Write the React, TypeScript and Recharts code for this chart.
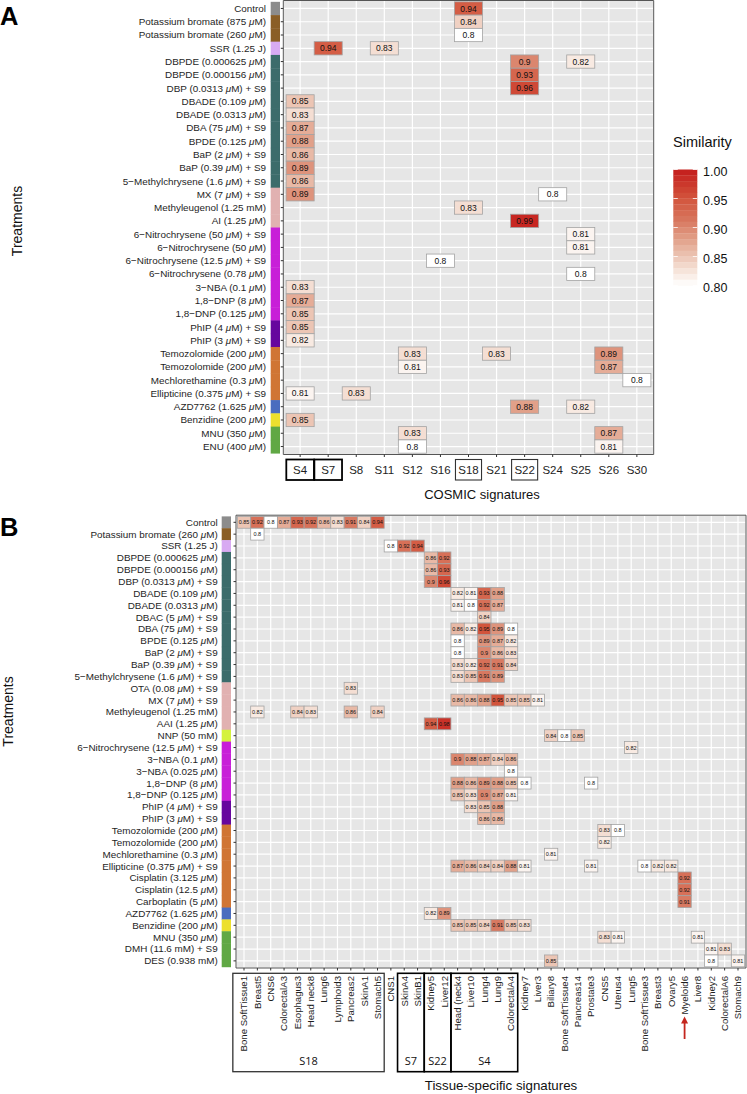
import React from 'react';
import { ScatterChart, Scatter, XAxis, YAxis, CartesianGrid, ReferenceArea } from 'recharts';

const FONT = '"Liberation Sans", Arial, Helvetica, sans-serif';
const PAD = 0.6; // ggplot discrete expansion

// ---------- Panel A: COSMIC signatures ----------
const treatmentsA = [
  'Control', 'Potassium bromate (875 μM)', 'Potassium bromate (260 μM)', 'SSR (1.25 J)',
  'DBPDE (0.000625 μM)', 'DBPDE (0.000156 μM)', 'DBP (0.0313 μM) + S9', 'DBADE (0.109 μM)',
  'DBADE (0.0313 μM)', 'DBA (75 μM) + S9', 'BPDE (0.125 μM)', 'BaP (2 μM) + S9',
  'BaP (0.39 μM) + S9', '5−Methylchrysene (1.6 μM) + S9', 'MX (7 μM) + S9', 'Methyleugenol (1.25 mM)',
  'AI (1.25 μM)', '6−Nitrochrysene (50 μM) + S9', '6−Nitrochrysene (50 μM)', '6−Nitrochrysene (12.5 μM) + S9',
  '6−Nitrochrysene (0.78 μM)', '3−NBA (0.1 μM)', '1,8−DNP (8 μM)', '1,8−DNP (0.125 μM)',
  'PhIP (4 μM) + S9', 'PhIP (3 μM) + S9', 'Temozolomide (200 μM)', 'Temozolomide (200 μM)',
  'Mechlorethamine (0.3 μM)', 'Ellipticine (0.375 μM) + S9', 'AZD7762 (1.625 μM)', 'Benzidine (200 μM)',
  'MNU (350 μM)', 'ENU (400 μM)',
];
const groupsA = [
  'ctrl', 'kbr', 'kbr', 'ssr',
  'pah', 'pah', 'pah', 'pah', 'pah', 'pah', 'pah', 'pah', 'pah', 'pah',
  'pink', 'pink', 'pink',
  'nitro', 'nitro', 'nitro', 'nitro', 'nitro', 'nitro', 'nitro',
  'phip', 'phip',
  'alk', 'alk', 'alk', 'alk',
  'azd', 'benz', 'green', 'green',
];
const cosmicSigs = ['S4', 'S7', 'S8', 'S11', 'S12', 'S16', 'S18', 'S21', 'S22', 'S24', 'S25', 'S26', 'S30'];
const boxedCosmic: Record<string, string> = { S4: 'bold', S7: 'bold', S18: 'thin', S22: 'thin' };

// [row, column, similarity]
const cellsA: [number, number, number][] = [
  [0, 6, 0.94], [1, 6, 0.84], [2, 6, 0.8],
  [3, 1, 0.94], [3, 3, 0.83],
  [4, 8, 0.9], [4, 10, 0.82], [5, 8, 0.93], [6, 8, 0.96],
  [7, 0, 0.85], [8, 0, 0.83], [9, 0, 0.87], [10, 0, 0.88], [11, 0, 0.86], [12, 0, 0.89], [13, 0, 0.86],
  [14, 0, 0.89], [14, 9, 0.8],
  [15, 6, 0.83], [16, 8, 0.99],
  [17, 10, 0.81], [18, 10, 0.81], [19, 5, 0.8], [20, 10, 0.8],
  [21, 0, 0.83], [22, 0, 0.87], [23, 0, 0.85], [24, 0, 0.85], [25, 0, 0.82],
  [26, 4, 0.83], [26, 7, 0.83], [26, 11, 0.89],
  [27, 4, 0.81], [27, 11, 0.87],
  [28, 12, 0.8],
  [29, 0, 0.81], [29, 2, 0.83],
  [30, 8, 0.88], [30, 10, 0.82],
  [31, 0, 0.85],
  [32, 4, 0.83], [32, 11, 0.87],
  [33, 4, 0.8], [33, 11, 0.81],
];

// ---------- Panel B: tissue-specific signatures ----------
const treatmentsB = [
  'Control', 'Potassium bromate (260 μM)', 'SSR (1.25 J)', 'DBPDE (0.000625 μM)',
  'DBPDE (0.000156 μM)', 'DBP (0.0313 μM) + S9', 'DBADE (0.109 μM)', 'DBADE (0.0313 μM)',
  'DBAC (5 μM) + S9', 'DBA (75 μM) + S9', 'BPDE (0.125 μM)', 'BaP (2 μM) + S9',
  'BaP (0.39 μM) + S9', '5−Methylchrysene (1.6 μM) + S9', 'OTA (0.08 μM) + S9', 'MX (7 μM) + S9',
  'Methyleugenol (1.25 mM)', 'AAI (1.25 μM)', 'NNP (50 mM)', '6−Nitrochrysene (12.5 μM) + S9',
  '3−NBA (0.1 μM)', '3−NBA (0.025 μM)', '1,8−DNP (8 μM)', '1,8−DNP (0.125 μM)',
  'PhIP (4 μM) + S9', 'PhIP (3 μM) + S9', 'Temozolomide (200 μM)', 'Temozolomide (200 μM)',
  'Mechlorethamine (0.3 μM)', 'Ellipticine (0.375 μM) + S9', 'Cisplatin (3.125 μM)', 'Cisplatin (12.5 μM)',
  'Carboplatin (5 μM)', 'AZD7762 (1.625 μM)', 'Benzidine (200 μM)', 'MNU (350 μM)',
  'DMH (11.6 mM) + S9', 'DES (0.938 mM)',
];
const groupsB = [
  'ctrl', 'kbr', 'ssr',
  'pah', 'pah', 'pah', 'pah', 'pah', 'pah', 'pah', 'pah', 'pah', 'pah', 'pah',
  'pink', 'pink', 'pink', 'pink',
  'nnp',
  'nitro', 'nitro', 'nitro', 'nitro', 'nitro',
  'phip', 'phip',
  'alk', 'alk', 'alk', 'alk', 'alk', 'alk', 'alk',
  'azd', 'benz', 'green', 'green', 'green',
];
const tissueSigs = [
  'Bone SoftTissue1', 'Breast5', 'CNS6', 'ColorectalA3', 'Esophagus3', 'Head neck8', 'Lung6', 'Lymphoid3',
  'Pancreas2', 'SkinA1', 'Stomach5', 'CNS1', 'SkinA4', 'SkinB1', 'Kidney5', 'Liver12',
  'Head (neck4', 'Liver10', 'Lung4', 'Lung9', 'ColorectalA4', 'Kidney7', 'Liver3', 'Biliary8',
  'Bone SoftTissue4', 'Pancreas14', 'Prostate3', 'CNS5', 'Uterus4', 'Lung5', 'Bone SoftTissue3', 'Breast3',
  'Ovary5', 'Myeloid6', 'Liver8', 'Kidney2', 'ColorectalA6', 'Stomach9',
];
const tissueBoxes = [
  { label: 'S18', from: 0, to: 10, padL: 4.5, bold: false },
  { label: 'S7', from: 12, to: 13, padL: 0, bold: true },
  { label: 'S22', from: 14, to: 15, padL: 0, bold: true },
  { label: 'S4', from: 16, to: 20, padL: 0, bold: true },
];
const arrowSig = 'Myeloid6';

// [row, first column, values in consecutive columns]
const runsB: [number, number, number[]][] = [
  [0, 0, [0.85, 0.92, 0.8, 0.87, 0.93, 0.92, 0.86, 0.83, 0.91, 0.84, 0.94]],
  [1, 1, [0.8]],
  [2, 11, [0.8, 0.92, 0.94]],
  [3, 14, [0.86, 0.92]],
  [4, 14, [0.86, 0.93]],
  [5, 14, [0.9, 0.96]],
  [6, 16, [0.82, 0.81, 0.93, 0.88]],
  [7, 16, [0.81, 0.8, 0.92, 0.87]],
  [8, 18, [0.84]],
  [9, 16, [0.86, 0.82, 0.95, 0.89, 0.8]],
  [10, 16, [0.8]], [10, 18, [0.89, 0.87, 0.82]],
  [11, 16, [0.8]], [11, 18, [0.9, 0.86, 0.83]],
  [12, 16, [0.83, 0.82, 0.92, 0.91, 0.84]],
  [13, 16, [0.83, 0.85, 0.91, 0.89]],
  [14, 8, [0.83]],
  [15, 16, [0.86, 0.86, 0.88, 0.95, 0.85, 0.85, 0.81]],
  [16, 1, [0.82]], [16, 4, [0.84, 0.83]], [16, 8, [0.86]], [16, 10, [0.84]],
  [17, 14, [0.94, 0.98]],
  [18, 23, [0.84, 0.8, 0.85]],
  [19, 29, [0.82]],
  [20, 16, [0.9, 0.88, 0.87, 0.84, 0.86]],
  [21, 20, [0.8]],
  [22, 16, [0.88, 0.86, 0.89, 0.88, 0.85, 0.8]], [22, 26, [0.8]],
  [23, 16, [0.85, 0.83, 0.9, 0.87, 0.81]],
  [24, 17, [0.83, 0.85, 0.88]],
  [25, 18, [0.86, 0.86]],
  [26, 27, [0.83, 0.8]],
  [27, 27, [0.82]],
  [28, 23, [0.81]],
  [29, 16, [0.87, 0.86, 0.84, 0.84, 0.88, 0.81]], [29, 26, [0.81]], [29, 30, [0.8, 0.82, 0.82]],
  [30, 33, [0.92]],
  [31, 33, [0.92]],
  [32, 33, [0.91]],
  [33, 14, [0.82, 0.89]],
  [34, 16, [0.85, 0.85, 0.84, 0.91, 0.85, 0.83]],
  [35, 27, [0.83, 0.81]], [35, 34, [0.81]],
  [36, 35, [0.81, 0.83]],
  [37, 23, [0.85]], [37, 35, [0.8]], [37, 37, [0.81]],
];

const groupColors: Record<string, string> = {
  ctrl: '#8c8c8c',
  kbr: '#8a5e26',
  ssr: '#d8aaf2',
  pah: '#3c6c6b',
  pink: '#e1b1b1',
  nnp: '#d4f23e',
  nitro: '#c81fd8',
  phip: '#66069e',
  alk: '#d07534',
  azd: '#4a6dbf',
  benz: '#ece02e',
  green: '#60a844',
};

const legendTicks = [1.0, 0.95, 0.9, 0.85, 0.8];

const simStops: [number, number[]][] = [
  [0.8, [255, 255, 255]],
  [0.82, [248, 234, 226]],
  [0.85, [236, 197, 180]],
  [0.88, [225, 160, 137]],
  [0.91, [216, 121, 97]],
  [0.95, [210, 84, 60]],
  [1.0, [196, 28, 28]],
];

function simColor(v: number): string {
  for (let i = 1; i < simStops.length; i++) {
    const [v0, c0] = simStops[i - 1];
    const [v1, c1] = simStops[i];
    if (v <= v1 || i === simStops.length - 1) {
      const t = Math.max(0, Math.min(1, (v - v0) / (v1 - v0)));
      const c = c0.map((a, k) => Math.round(a + (c1[k] - a) * t));
      return `rgb(${c[0]},${c[1]},${c[2]})`;
    }
  }
  return '#fff';
}

function withMu(label: string) {
  const parts = label.split('μ');
  const out: React.ReactNode[] = [];
  parts.forEach((p, i) => {
    if (i > 0) out.push(<tspan key={'m' + i} fontStyle="italic">μ</tspan>);
    out.push(<tspan key={'p' + i}>{p}</tspan>);
  });
  return out;
}

const HeatCell = (props: any) => {
  const { cx, cy, payload, cw, ch, fs } = props;
  if (cx == null || cy == null) return <g />;
  return (
    <g>
      <rect x={cx - cw / 2} y={cy - ch / 2} width={cw} height={ch} fill={simColor(payload.v)} stroke="#a3a3a3" strokeWidth={0.8} />
      <text x={cx} y={cy} dy="0.36em" textAnchor="middle" fontSize={fs} fill="#111" fontFamily={FONT}>
        {String(payload.v)}
      </text>
    </g>
  );
};

type Plot = { left: number; top: number; right: number; bottom: number };

function HeatPanel(props: {
  rows: string[];
  groups: string[];
  cols: string[];
  data: { x: number; y: number; v: number }[];
  width: number;
  height: number;
  plot: Plot;
  labelRight: number;
  barX: number;
  cellFont: number;
  xTick: (p: any, cw: number) => React.ReactElement;
}) {
  const { rows, groups, cols, data, width, height, plot, labelRight, barX, cellFont, xTick } = props;
  const cw = (plot.right - plot.left) / (cols.length - 1 + 2 * PAD);
  const ch = (plot.bottom - plot.top) / (rows.length - 1 + 2 * PAD);

  const yTick = (p: any) => {
    const i = p.payload.value;
    return (
      <g>
        <rect x={barX} y={p.y - ch / 2} width={9.3} height={ch + 0.4} fill={groupColors[groups[i]]} />
        <text x={labelRight} y={p.y} dy="0.35em" textAnchor="end" fontSize={9.9} fill="#1e1e1e" fontFamily={FONT}>
          {withMu(rows[i])}
        </text>
      </g>
    );
  };

  return (
    <ScatterChart width={width} height={height} margin={{ top: plot.top, right: width - plot.right, bottom: 0, left: 0 }}>
      <CartesianGrid fill="#e6e6e6" stroke="#ffffff" strokeWidth={1.2} />
      <XAxis
        type="number"
        dataKey="x"
        domain={[-PAD, cols.length - 1 + PAD]}
        ticks={cols.map((_, i) => i)}
        interval={0}
        allowDataOverflow
        axisLine={false}
        tickLine={{ stroke: '#333' }}
        tickSize={2.5}
        height={height - plot.bottom}
        tick={(p: any) => xTick(p, cw)}
      />
      <YAxis
        type="number"
        dataKey="y"
        reversed
        domain={[-PAD, rows.length - 1 + PAD]}
        ticks={rows.map((_, i) => i)}
        interval={0}
        allowDataOverflow
        axisLine={false}
        tickLine={{ stroke: '#333' }}
        tickSize={2.5}
        width={plot.left}
        tick={yTick}
      />
      <ReferenceArea
        x1={-PAD}
        x2={cols.length - 1 + PAD}
        y1={-PAD}
        y2={rows.length - 1 + PAD}
        fill="none"
        stroke="#555"
        strokeWidth={1}
        ifOverflow="visible"
      />
      <Scatter
        data={data}
        isAnimationActive={false}
        shape={(p: any) => <HeatCell {...p} cw={cw} ch={ch} fs={cellFont} />}
      />
    </ScatterChart>
  );
}

const cosmicTick = (p: any, cw: number) => {
  const name = cosmicSigs[p.payload.value];
  const box = boxedCosmic[name];
  const half = box === 'bold' ? cw / 2 - 0.2 : cw / 2 - 1;
  return (
    <g>
      {box && (
        <rect
          x={p.x - half}
          y={459.5}
          width={half * 2}
          height={20.5}
          fill="none"
          stroke={box === 'bold' ? '#000' : '#333'}
          strokeWidth={box === 'bold' ? 1.8 : 1.1}
        />
      )}
      <text x={p.x} y={469.5} dy="0.36em" textAnchor="middle" fontSize={11.5} fill="#1e1e1e" fontFamily={FONT}>
        {name}
      </text>
    </g>
  );
};

const tissueTick = (p: any, cw: number) => {
  const i = p.payload.value;
  const x = p.x;
  const box = tissueBoxes.find((b) => b.from === i);
  const top = 976;
  let boxEl = null;
  if (box) {
    const bx = x - cw / 2 - box.padL;
    const bw = (box.to - box.from + 1) * cw + box.padL;
    boxEl = (
      <g>
        <rect x={bx} y={973.3} width={bw} height={98.4} fill="none" stroke={box.bold ? '#000' : '#333'} strokeWidth={box.bold ? 1.6 : 1.3} />
        <text x={bx + bw / 2} y={1061} dy="0.36em" textAnchor="middle" fontSize={11} fill="#111" fontFamily='"Open Sans", sans-serif'>
          {box.label}
        </text>
      </g>
    );
  }
  return (
    <g>
      <text transform={`rotate(-90 ${x} ${top})`} x={x} y={top} dy="0.35em" textAnchor="end" fontSize={9.6} fill="#1e1e1e" fontFamily={FONT}>
        {tissueSigs[i]}
      </text>
      {boxEl}
      {tissueSigs[i] === arrowSig && (
        <g>
          <line x1={x} y1={1039} x2={x} y2={1022} stroke="#c4261e" strokeWidth={1.8} />
          <polygon points={`${x},${1016.5} ${x - 3.5},${1023.5} ${x + 3.5},${1023.5}`} fill="#c4261e" />
        </g>
      )}
    </g>
  );
};

const dataA = cellsA.map(([r, c, v]) => ({ x: c, y: r, v }));
const dataB = runsB.flatMap(([r, c0, vals]) => vals.map((v, k) => ({ x: c0 + k, y: r, v })));

const legBar = { x: 673.3, top: 169.5, bottom: 285.5, w: 24 };
const legY = (v: number) => legBar.top + ((1 - v) / 0.2) * (legBar.bottom - legBar.top);

export default function App() {
  const bands = Array.from({ length: 20 }, (_, k) => k);
  const bandH = (legBar.bottom - legBar.top) / 20;
  return (
    <div style={{ position: 'absolute', left: 0, top: 0, width: 747, height: 1094, background: '#fff', overflow: 'hidden' }}>
      <div style={{ position: 'absolute', left: 0, top: 0 }}>
        <HeatPanel
          rows={treatmentsA}
          groups={groupsA}
          cols={cosmicSigs}
          data={dataA}
          width={747}
          height={505}
          plot={{ left: 283.3, top: 0.5, right: 653.7, bottom: 454.5 }}
          labelRight={266}
          barX={270.7}
          cellFont={8.5}
          xTick={cosmicTick}
        />
      </div>
      <div style={{ position: 'absolute', left: 0, top: 0 }}>
        <HeatPanel
          rows={treatmentsB}
          groups={groupsB}
          cols={tissueSigs}
          data={dataB}
          width={747}
          height={1094}
          plot={{ left: 236, top: 515.2, right: 746, bottom: 968 }}
          labelRight={217.7}
          barX={221.7}
          cellFont={5.5}
          xTick={tissueTick}
        />
      </div>
      <svg width={747} height={1094} style={{ position: 'absolute', left: 0, top: 0, pointerEvents: 'none' }} fontFamily={FONT}>
        <text x={0} y={25} fontSize={25.5} fontWeight="bold" fill="#000">A</text>
        <text x={0} y={536} fontSize={25.5} fontWeight="bold" fill="#000">B</text>
        <text transform="rotate(-90 17 221)" x={17} y={221} dy="0.35em" textAnchor="middle" fontSize={14} fill="#111">Treatments</text>
        <text transform="rotate(-90 8.5 711.5)" x={8.5} y={711.5} dy="0.35em" textAnchor="middle" fontSize={14} fill="#111">Treatments</text>
        <text x={482} y={494} dy="0.35em" textAnchor="middle" fontSize={13} fill="#111">COSMIC signatures</text>
        <text x={501} y={1085.7} dy="0.35em" textAnchor="middle" fontSize={13.3} fill="#111">Tissue-specific signatures</text>

        <text x={673} y={147} fontSize={14.5} fill="#111">Similarity</text>
        {bands.map((k) => (
          <rect
            key={k}
            x={legBar.x}
            y={legBar.top + k * bandH}
            width={legBar.w}
            height={bandH + 0.3}
            fill={simColor(1 - (k + 0.5) * 0.01)}
          />
        ))}
        {legendTicks.map((v) => (
          <g key={v}>
            <line x1={legBar.x} x2={legBar.x + 4.5} y1={legY(v)} y2={legY(v)} stroke="#fff" strokeWidth={0.8} />
            <line x1={legBar.x + legBar.w - 4.5} x2={legBar.x + legBar.w} y1={legY(v)} y2={legY(v)} stroke="#fff" strokeWidth={0.8} />
            <text x={703} y={legY(v) + 1.5} dy="0.36em" fontSize={12.5} fill="#111">{v.toFixed(2)}</text>
          </g>
        ))}
      </svg>
    </div>
  );
}
